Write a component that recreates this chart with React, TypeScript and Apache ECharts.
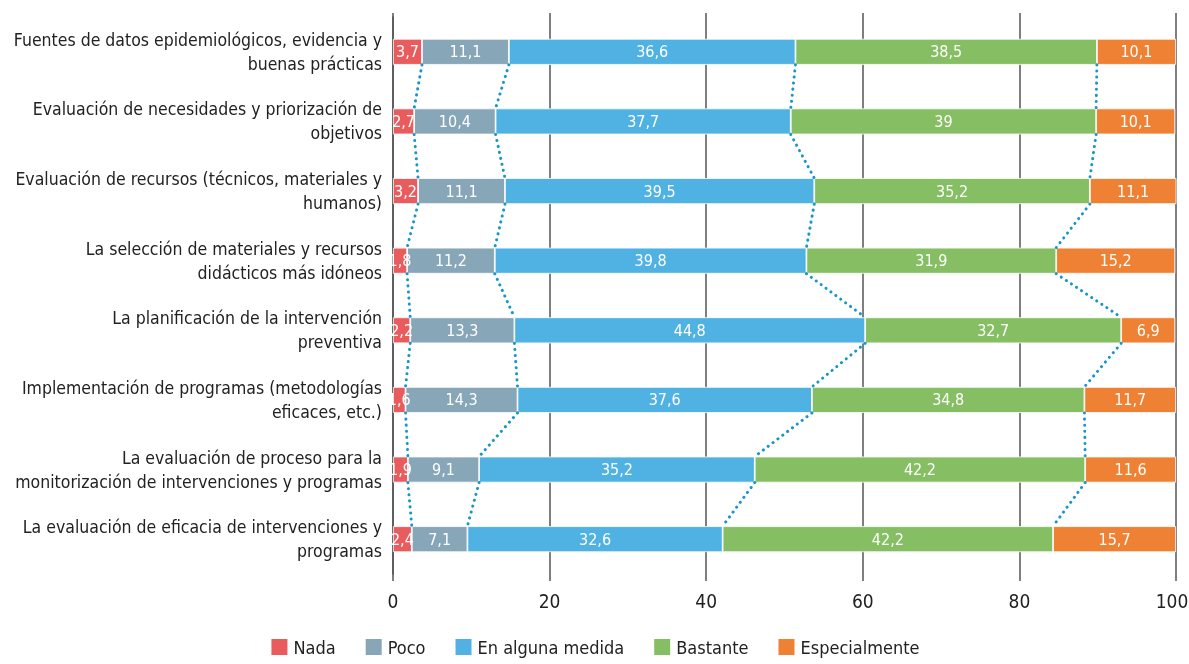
import React, { useEffect, useRef } from "react";
import * as echarts from "echarts";

const categories = [
  "Fuentes de datos epidemiológicos, evidencia y\nbuenas prácticas",
  "Evaluación de necesidades y priorización de\nobjetivos",
  "Evaluación de recursos (técnicos, materiales y\nhumanos)",
  "La selección de materiales y recursos\ndidácticos más idóneos",
  "La planificación de la intervención\npreventiva",
  "Implementación de programas (metodologías\neficaces, etc.)",
  "La evaluación de proceso para la\nmonitorización de intervenciones y programas",
  "La evaluación de eficacia de intervenciones y\nprogramas",
];

const seriesNames = ["Nada", "Poco", "En alguna medida", "Bastante", "Especialmente"];
const nada = [3.7, 2.7, 3.2, 1.8, 2.2, 1.6, 1.9, 2.4];
const poco = [11.1, 10.4, 11.1, 11.2, 13.3, 14.3, 9.1, 7.1];
const enAlgunaMedida = [36.6, 37.7, 39.5, 39.8, 44.8, 37.6, 35.2, 32.6];
const bastante = [38.5, 39, 35.2, 31.9, 32.7, 34.8, 42.2, 42.2];
const especialmente = [10.1, 10.1, 11.1, 15.2, 6.9, 11.7, 11.6, 15.7];
const xTicks = [0, 20, 40, 60, 80, 100];

const colors = ["#E95C5D", "#87A6B8", "#50B2E3", "#86BF63", "#EF8134"];
const FONT = "'DejaVu Sans Condensed', 'Liberation Sans Narrow', sans-serif";

export default function App() {
  const ref = useRef<HTMLDivElement>(null);
  useEffect(() => {
    if (!ref.current) return;
    const chart = echarts.init(ref.current, undefined, { renderer: "svg" });
    const all = [nada, poco, enAlgunaMedida, bastante, especialmente];
    const BAR_H = 26;
    const cum = categories.map((_, i) => {
      let s = 0;
      const out: number[] = [];
      for (let k = 0; k < 4; k++) {
        s += all[k][i];
        out.push(s);
      }
      return out;
    });
    const barSeries = all.map((d, k) => ({
      name: seriesNames[k],
      type: "bar",
      stack: "total",
      barWidth: BAR_H,
      data: d,
      itemStyle: { color: colors[k], borderColor: "#ffffff", borderWidth: 0.8 },
      label: {
        show: true,
        position: "inside",
        color: "#ffffff",
        fontFamily: FONT,
        fontSize: 16,
        formatter: (p: any) => String(p.value).replace(".", ","),
      },
    }));
    const linkData = categories.slice(0, -1).map((_, i) => [0, i]);
    const option: any = {
      animation: false,
      textStyle: { fontFamily: FONT },
      grid: { left: 393, right: 13, top: 17, bottom: 90, containLabel: false, outerBoundsMode: "none" },
      legend: {
        bottom: 2,
        left: "center",
        itemWidth: 18,
        itemHeight: 18,
        itemGap: 28,
        icon: "rect",
        textStyle: { fontFamily: FONT, fontSize: 18, color: "#222" },
        data: seriesNames,
      },
      xAxis: [
        {
          type: "value",
          min: 0,
          max: 100,
          interval: 20,
          axisLine: { show: false },
          axisTick: { show: true, length: 7, lineStyle: { color: "#555", width: 1.5 } },
          splitLine: { show: true, lineStyle: { color: "#555", width: 1.5 } },
          axisLabel: {
            fontFamily: FONT,
            fontSize: 19,
            color: "#222",
            margin: 17,
            formatter: (v: number) =>
              xTicks.includes(v) ? (v === 100 ? "{r|" + v + "}" : String(v)) : "",
            rich: {
              r: { fontFamily: FONT, fontSize: 19, color: "#222", padding: [0, 8, 0, 0] },
            },
          },
        },
        {
          type: "value",
          position: "top",
          min: 0,
          max: 100,
          interval: 20,
          axisLine: { show: false },
          axisTick: { show: true, length: 4, lineStyle: { color: "#555", width: 1.5 } },
          splitLine: { show: false },
          axisLabel: { show: false },
        },
      ],
      yAxis: {
        type: "category",
        data: categories,
        inverse: true,
        axisLine: { show: true, lineStyle: { color: "#555", width: 1.5 } },
        axisTick: { show: false },
        axisLabel: {
          fontFamily: FONT,
          fontSize: 17.5,
          color: "#222",
          lineHeight: 24,
          align: "right",
          margin: 11,
        },
      },
      series: [
        ...barSeries,
        {
          type: "custom",
          name: "links",
          silent: true,
          z: 5,
          data: linkData,
          encode: { x: 0, y: 1 },
          renderItem: (params: any, api: any) => {
            const i = params.dataIndex;
            const children = cum[i].map((v, k) => {
              const p1 = api.coord([v, i]);
              const p2 = api.coord([cum[i + 1][k], i + 1]);
              return {
                type: "line",
                shape: { x1: p1[0], y1: p1[1] + BAR_H / 2, x2: p2[0], y2: p2[1] - BAR_H / 2 },
                style: { stroke: "#1796C8", lineWidth: 3, lineDash: [0.1, 6], lineCap: "round" },
              };
            });
            return { type: "group", children };
          },
        },
      ],
    };
    chart.setOption(option);
    return () => chart.dispose();
  }, []);
  return (
    <div
      ref={ref}
      style={{ position: "fixed", left: 0, top: 0, width: 1189, height: 664 }}
    />
  );
}
